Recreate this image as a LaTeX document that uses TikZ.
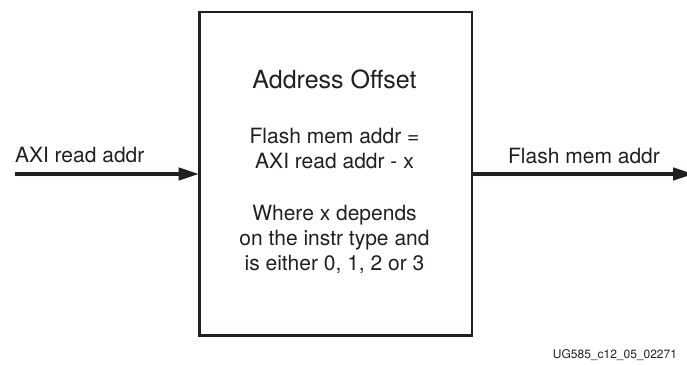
\documentclass[tikz,border=0pt]{standalone}
\usepackage{fontspec}
\setmainfont{TeX Gyre Heros}
\usetikzlibrary{arrows.meta}
\definecolor{inkdark}{HTML}{231F20}
\tikzset{every node/.style={text=inkdark,inner sep=0pt,outer sep=0pt}}
\newcommand{\fTitle}{\fontsize{25}{30}\selectfont}
\newcommand{\fBody}{\fontsize{21}{25}\selectfont}
\newcommand{\fTag}{\fontsize{12}{14}\selectfont}

\begin{document}
\begin{tikzpicture}[x=1pt,y=-1pt,
    blockbox/.style={draw=inkdark,fill=white,line width=2.5pt,
      minimum width=272.5pt,minimum height=323.3pt},
    txt/.style={anchor=base,align=center,font=\fBody},
    arr/.style={draw=inkdark,line width=4.3pt,
      -{Triangle[length=21pt,width=12pt]}}]
  \path[use as bounding box] (0,0) rectangle (687,364);

  % the offset block and its text (base = last line)
  \node[blockbox] (offset) at (335.75,173.7) {};
  \node[txt,font=\fTitle] (title) at (334.5,88) {Address Offset};
  \node[txt] (rule) at (334.5,168) {Flash mem addr =\\AXI read addr - x};
  \node[txt] (note) at (334.5,270) {Where x depends\\on the instr type and\\is either 0, 1, 2 or 3};

  % input and output addresses
  \coordinate (axiin) at (15,174);
  \coordinate (flashout) at (694,174);
  \draw[arr] (axiin) -- (axiin -| offset.west);
  \draw[arr] (offset.east |- flashout) -- (flashout);
  \node[txt,anchor=base west] (axilabel) at (15,162) {AXI read addr};
  \node[txt] (flashlabel) at (584,163) {Flash mem addr};

  % figure tag
  \node[txt,anchor=base east,font=\fTag] (tag) at (677,358) {UG585\_c12\_05\_02271};
\end{tikzpicture}
\end{document}
